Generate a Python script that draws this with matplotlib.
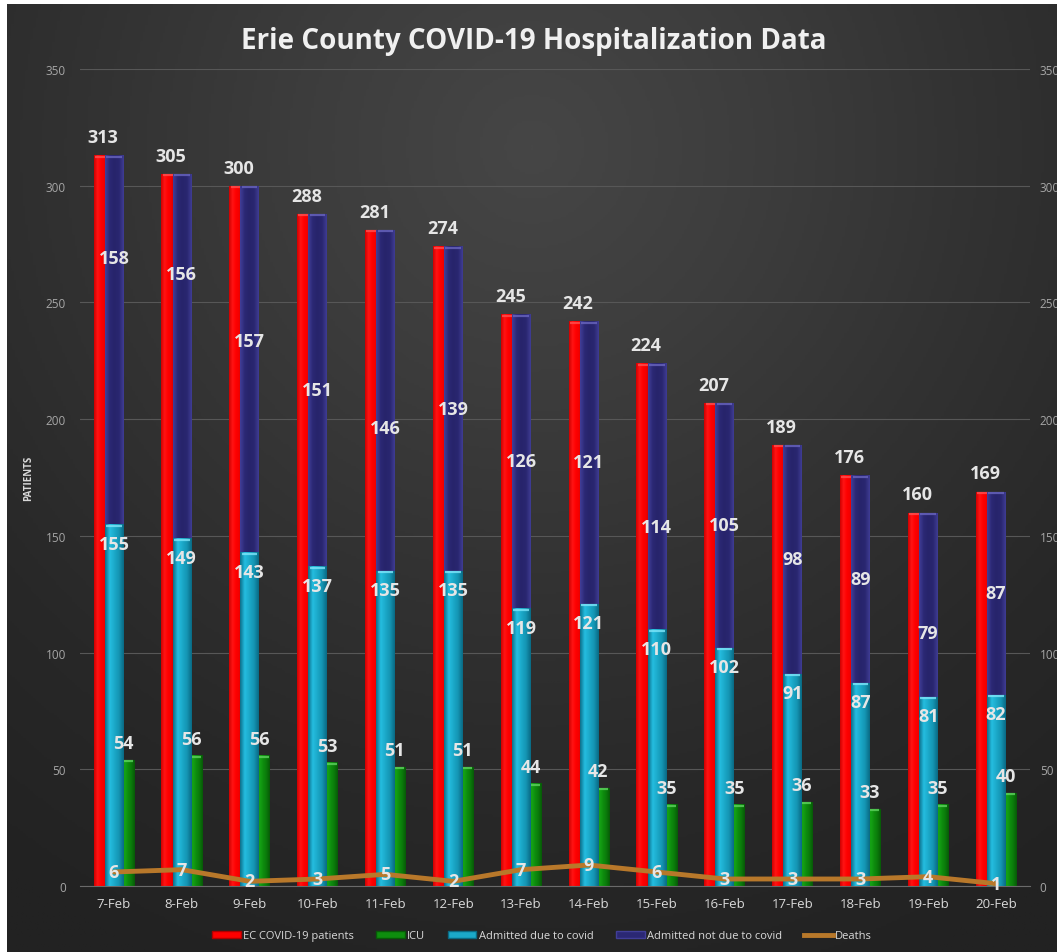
import numpy as np
import matplotlib.pyplot as plt
from matplotlib.colors import LinearSegmentedColormap
from matplotlib.patches import Patch
from matplotlib.lines import Line2D

dates = ['7-Feb', '8-Feb', '9-Feb', '10-Feb', '11-Feb', '12-Feb', '13-Feb',
         '14-Feb', '15-Feb', '16-Feb', '17-Feb', '18-Feb', '19-Feb', '20-Feb']
ec_patients = [313, 305, 300, 288, 281, 274, 245, 242, 224, 207, 189, 176, 160, 169]
icu = [54, 56, 56, 53, 51, 51, 44, 42, 35, 35, 36, 33, 35, 40]
admitted_due = [155, 149, 143, 137, 135, 135, 119, 121, 110, 102, 91, 87, 81, 82]
admitted_not_due = [158, 156, 157, 151, 146, 139, 126, 121, 114, 105, 98, 89, 79, 87]
deaths = [6, 7, 2, 3, 5, 2, 7, 9, 6, 3, 3, 3, 4, 1]

# the source chart nudged a few of the "not due" labels by hand
not_due_label_shift = [35, 35, 12, 0, -12, 0, 0, 0, -13, 0, 0, 0, -12, 0]

plt.rcParams['font.family'] = ['Open Sans', 'DejaVu Sans']

W, H = 1057, 953
fig = plt.figure(figsize=(W / 100, H / 100), dpi=100, facecolor='white')

# dark radial background, brightest under the title
bg = fig.add_axes([7 / W, 0, 1 - 7 / W, 1 - 5 / H], zorder=-10)
yy, xx = np.mgrid[0:1:400j, 0:1:400j]
r = np.sqrt(((xx - 0.5) * 1.0) ** 2 + ((yy - 0.15) * 0.9) ** 2)
bg_cmap = LinearSegmentedColormap.from_list('bg', ['#464646', '#3d3d3d', '#323232', '#282828', '#222222'])
bg.imshow(r, cmap=bg_cmap, aspect='auto', extent=[0, 1, 1, 0], vmin=0, vmax=0.85)
bg.set_axis_off()

ax = fig.add_axes([80 / W, 1 - 887 / H, 950 / W, 817 / H])
ax.patch.set_alpha(0)
x = np.arange(len(dates))

cmaps = {
    'red': LinearSegmentedColormap.from_list('r', ['#d00000', '#ff1414', '#ff0000', '#f00000', '#c00000']),
    'green': LinearSegmentedColormap.from_list('g', ['#0a6a0a', '#15a515', '#0e8e0e', '#0b7a0b', '#075a07']),
    'cyan': LinearSegmentedColormap.from_list('c', ['#0c6f8a', '#25bde0', '#1ba9c9', '#1494b2', '#0a6a84']),
    'blue': LinearSegmentedColormap.from_list('b', ['#413e98', '#2b2874', '#27246b', '#2a2770', '#3f3c94']),
}
caps = {'red': '#ff5050', 'green': '#5fd35f', 'cyan': '#7fe6fa', 'blue': '#6a66c0'}
grad = np.linspace(0, 1, 64).reshape(1, -1)


def shade(bars, key):
    for p in bars:
        x0, y0 = p.get_x(), p.get_y()
        im = ax.imshow(grad, cmap=cmaps[key], aspect='auto', zorder=p.get_zorder() + 0.1,
                       extent=[x0, x0 + p.get_width(), y0, y0 + p.get_height()])
        im.set_clip_path(p)
        # small lighter bevel on top of each column
        ax.plot([x0 + 0.02, x0 + p.get_width() - 0.02], [y0 + p.get_height() - 0.6] * 2,
                color=caps[key], lw=1.6, alpha=0.8, zorder=p.get_zorder() + 0.2,
                solid_capstyle='butt')


red_bars = ax.bar(x - 0.2, ec_patients, width=0.2, color='#ff0000', zorder=2)
green_bars = ax.bar(x + 0.2, icu, width=0.2, color='#0e8e0e', zorder=2)
due_bars = ax.bar(x, admitted_due, width=0.27, color='#1ba9c9', zorder=3)
not_bars = ax.bar(x, admitted_not_due, width=0.27, bottom=admitted_due, color='#2b2874', zorder=3)
shade(red_bars, 'red')
shade(green_bars, 'green')
shade(due_bars, 'cyan')
shade(not_bars, 'blue')

ax.set_xlim(-0.5, len(dates) - 0.5)
ax.set_ylim(0, 350)
ax.set_yticks(range(0, 351, 50))
ax.grid(axis='y', color='#575757', lw=0.8, zorder=0)
ax.set_axisbelow(True)
for s in ['top', 'right', 'left']:
    ax.spines[s].set_visible(False)
ax.spines['bottom'].set_color('#6a6a6a')
ax.set_xticks(x)
ax.set_xticklabels(dates)
ax.tick_params(axis='x', length=0, pad=8, labelsize=9.5, labelcolor='#d9d9d9')
ax.tick_params(axis='y', length=0, pad=10, labelsize=8.5, labelcolor='#a6a6a6')
ax.set_ylabel('PATIENTS', fontsize=7, fontweight='bold', color='#d9d9d9', labelpad=8)

ax2 = ax.twinx()
ax2.set_ylim(0, 350)
ax2.set_yticks(range(0, 351, 50))
ax2.tick_params(axis='y', length=0, pad=7, labelsize=8.5, labelcolor='#a6a6a6')
for s in ax2.spines.values():
    s.set_visible(False)
ax2.plot(x, deaths, color='#b8782a', lw=3.5, solid_capstyle='round', zorder=5)

lab = dict(color='#e6e6e6', fontsize=13, fontweight='bold', ha='center', va='center',
           textcoords='offset points', zorder=10)
for i in range(len(dates)):
    ax2.annotate(str(ec_patients[i]), (x[i] - 0.16, ec_patients[i]), xytext=(0, 13), **lab)
    ax2.annotate(str(admitted_due[i]), (x[i], admitted_due[i]), xytext=(0, -14), **lab)
    mid = admitted_due[i] + admitted_not_due[i] / 2 + not_due_label_shift[i]
    ax2.annotate(str(admitted_not_due[i]), (x[i], mid), xytext=(0, 0), **lab)
    ax2.annotate(str(icu[i]), (x[i] + 0.14, icu[i]), xytext=(0, 12), **lab)
    ax2.annotate(str(deaths[i]), (x[i], deaths[i]), xytext=(0, 0), **lab)

fig.text(0.505, 1 - 42 / H, 'Erie County COVID-19 Hospitalization Data', ha='center', va='center',
         fontsize=20, fontweight='bold', color='#f0f0f0')

handles = [
    Patch(facecolor='#ff0000', edgecolor='#b00000'),
    Patch(facecolor='#0e8e0e', edgecolor='#075a07'),
    Patch(facecolor='#1ba9c9', edgecolor='#0a6a84'),
    Patch(facecolor='#2b2874', edgecolor='#413e98'),
    Line2D([0], [0], color='#b8782a', lw=3.5),
]
names = ['EC COVID-19 patients', 'ICU', 'Admitted due to covid', 'Admitted not due to covid', 'Deaths']
leg = fig.legend(handles, names, loc='center', bbox_to_anchor=(542 / W, 1 - 937 / H), ncol=5,
                 frameon=False, fontsize=8, labelcolor='#d9d9d9', handlelength=2.6, handleheight=0.55,
                 handletextpad=0.2, columnspacing=2.0)

fig.savefig('out.png', dpi=100, facecolor='white')
